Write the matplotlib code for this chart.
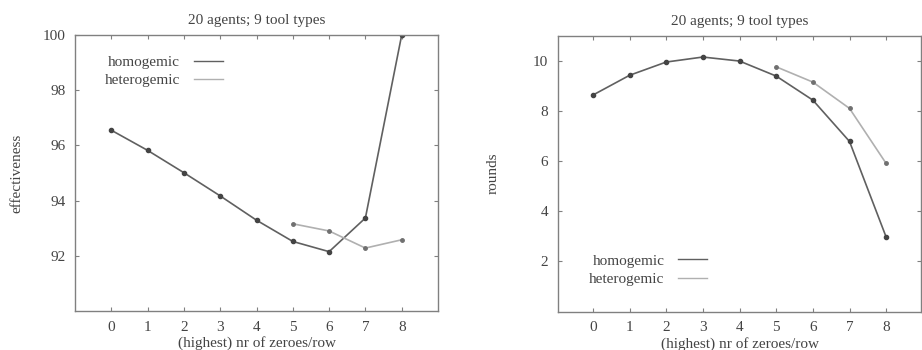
import matplotlib.pyplot as plt
from matplotlib.lines import Line2D

# x positions: (highest) nr of zeroes per row
zeroes = [0, 1, 2, 3, 4, 5, 6, 7, 8]
zeroes_het = [5, 6, 7, 8]

# left panel: effectiveness
eff_homo = [96.55, 95.82, 95.01, 94.17, 93.29, 92.52, 92.15, 93.37, 100.0]
eff_het = [93.16, 92.90, 92.28, 92.58]

# right panel: rounds
rounds_homo = [8.64, 9.43, 9.96, 10.16, 10.0, 9.40, 8.44, 6.79, 2.97]
rounds_het = [9.77, 9.16, 8.11, 5.91]

title = "20 agents; 9 tool types"
xlabel = "(highest) nr of zeroes/row"

plt.rcParams["font.family"] = ["Liberation Serif", "DejaVu Serif"]

TEXT = "#444444"
HOMO = "#606060"
HET = "#b0b0b0"
FS = 11


def style_axes(ax, yticks):
    for s in ax.spines.values():
        s.set_color("#808080")
        s.set_linewidth(1.0)
    ax.set_xticks(zeroes)
    ax.set_yticks(yticks)
    ax.tick_params(direction="in", top=True, right=True, length=3, width=0.8,
                   color="#808080", labelcolor=TEXT, labelsize=FS)
    ax.tick_params(axis="x", pad=7)
    ax.tick_params(axis="y", pad=7)
    ax.set_title(title, color=TEXT, fontsize=FS, pad=8)
    ax.set_xlabel(xlabel, color=TEXT, fontsize=FS, labelpad=2)


def add_legend(ax, pos):
    handles = [Line2D([], [], color=HOMO, lw=1.0), Line2D([], [], color=HET, lw=1.0)]
    ax.legend(handles, ["homogemic", "heterogemic"], loc="center", bbox_to_anchor=pos,
              frameon=False, markerfirst=False, alignment="right", handlelength=1.9,
              handletextpad=0.9, labelspacing=0.3, borderpad=0, fontsize=FS,
              labelcolor=TEXT)


fig = plt.figure(figsize=(9.22, 3.5), dpi=100)

ax1 = fig.add_axes([75 / 922, 1 - 311 / 350, 363 / 922, 276 / 350])
ax1.plot(zeroes, eff_homo, color=HOMO, lw=1.2, marker="o", ms=3, mfc="#444444", mec="#444444")
ax1.plot(zeroes_het, eff_het, color=HET, lw=1.2, marker="o", ms=2.5, mfc="#707070", mec="#707070")
ax1.set_xlim(-1, 9)
ax1.set_ylim(90, 100)
style_axes(ax1, [92, 94, 96, 98, 100])
ax1.set_ylabel("effectiveness", color=TEXT, fontsize=FS, labelpad=14)
add_legend(ax1, (0.245, 0.868))

ax2 = fig.add_axes([558 / 922, 1 - 311.5 / 350, 363 / 922, 275.5 / 350])
ax2.plot(zeroes, rounds_homo, color=HOMO, lw=1.2, marker="o", ms=3, mfc="#444444", mec="#444444")
ax2.plot(zeroes_het, rounds_het, color=HET, lw=1.2, marker="o", ms=2.5, mfc="#707070", mec="#707070")
ax2.set_xlim(-0.95, 8.95)
ax2.set_ylim(0, 11)
style_axes(ax2, [2, 4, 6, 8, 10])
ax2.set_ylabel("rounds", color=TEXT, fontsize=FS, labelpad=24)
add_legend(ax2, (0.248, 0.151))

fig.savefig("out.png", dpi=100)
